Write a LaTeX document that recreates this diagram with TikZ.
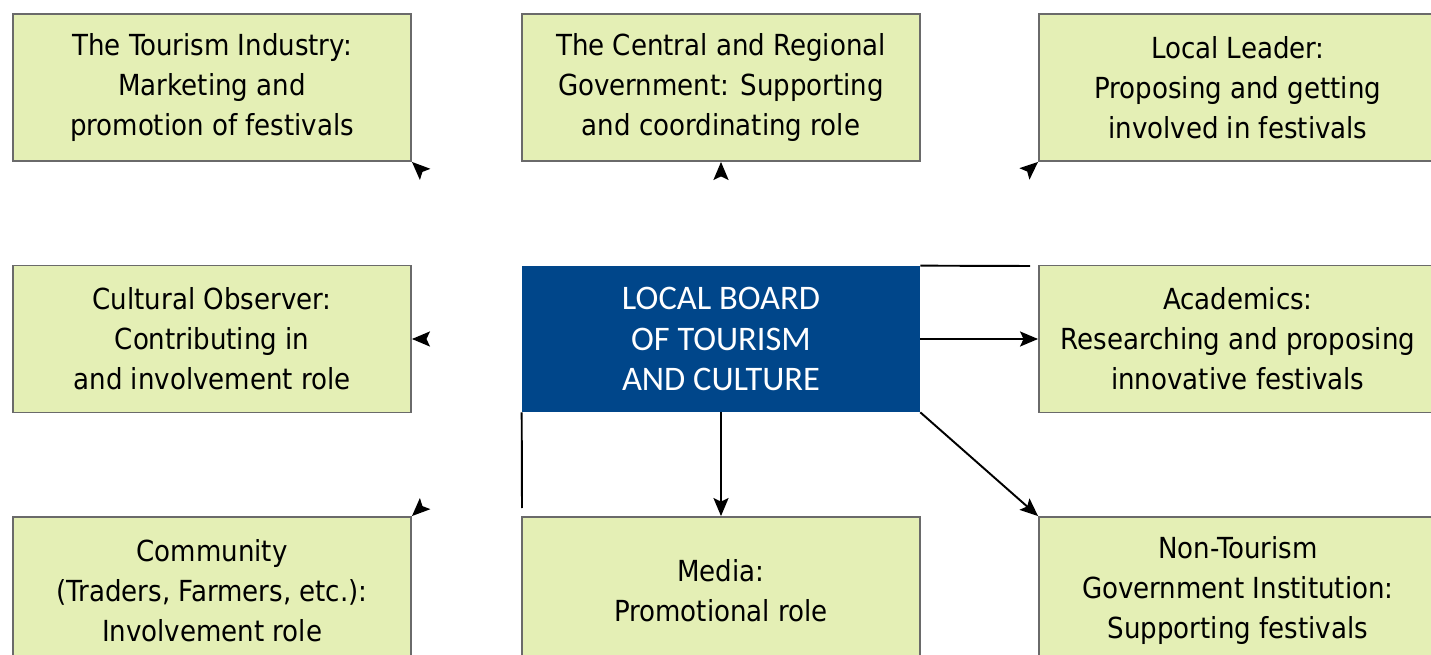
\documentclass[tikz,border=0pt]{standalone}
\usepackage{fontspec}
\setmainfont{DejaVu Sans Condensed}
\newfontfamily\boardfont{Carlito}
\usetikzlibrary{positioning, arrows.meta}
\definecolor{rolefill}{HTML}{E4EFB5}
\definecolor{roleline}{HTML}{6A6A6A}
\definecolor{boardfill}{HTML}{00468A}

\begin{document}
\begin{tikzpicture}
	[x=0.02cm, y=-0.02cm, on grid, node distance = 5.03cm and 10.18cm,
	 role/.style={draw=roleline, line width=1pt, fill=rolefill, minimum width=7.96cm, minimum height=2.94cm,
	   align=center, font=\fontsize{16.5}{22.8}\selectfont, inner sep=0pt},
	 board/.style={fill=boardfill, text=white, minimum width=7.96cm, minimum height=2.92cm,
	   align=center, font=\boardfont\fontsize{19.6}{22.8}\selectfont, inner sep=0pt},
	 link/.style={line width=1.1pt, -{Stealth[length=3.6mm, width=3mm, inset=0.7mm]}},
	 hidden/.style={white, line width=1.1pt, -{Stealth[length=3.6mm, width=3mm, inset=0.7mm, color=black, fill=black]}}]
   \useasboundingbox (0,0) rectangle (1431,655);
   \clip (0,0) rectangle (1431,655);
   \node[board] (lb) at (721,339) {LOCAL BOARD\\OF TOURISM\\AND CULTURE};
   \node[role] (gov)[above=of lb] {The Central and Regional\\Government:  Supporting\\and coordinating role};
   \node[role] (tour)[left=of gov] {The Tourism Industry:\\Marketing and\\promotion of festivals};
   \node[role] (leader)[right=10.34cm of gov] {Local Leader:\\Proposing and getting\\involved in festivals};
   \node[role] (obs)[left=of lb] {Cultural Observer:\\Contributing in\\and involvement role};
   \node[role] (acad)[right=10.34cm of lb] {Academics:\\Researching and proposing\\innovative festivals};
   \node[role] (media)[below=of lb] {Media:\\Promotional role};
   \node[role] (comm)[left=of media] {Community\\(Traders, Farmers, etc.):\\Involvement role};
   \node[role] (inst)[right=10.34cm of media] {Non-Tourism\\Government Institution:\\Supporting festivals};
   \coordinate (ne end) at (1030,266);
   \coordinate (sw end) at (522,508);
    \path[hidden] 
    (lb.north west) edge (tour.south east)
    (lb.north) edge (gov.south)
    (lb.north east) edge (leader.south west)
    (lb.west) edge (obs.east)
    (lb.south west) edge (comm.north east);
    \path[link] 
    (lb.east) edge (acad.west)
    (lb.south) edge (media.north)
    (lb.south east) edge (inst.north west);
   \draw[line width=1.1pt] (lb.north east) -- (ne end);
   \draw[line width=1.1pt] (lb.south west) -- (sw end);
\end{tikzpicture}
\end{document}
